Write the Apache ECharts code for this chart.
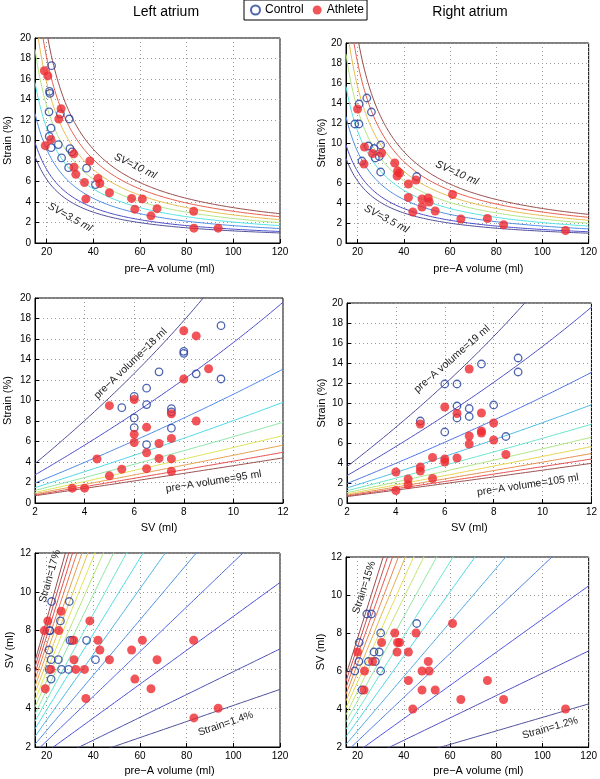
<!DOCTYPE html>
<html>
<head>
<meta charset="utf-8">
<title>Atrial strain vs volume</title>
<script src="https://cdn.jsdelivr.net/npm/echarts@6/dist/echarts.min.js"></script>
<style>
	html, body { margin: 0; padding: 0; background: #fff; }
	#chart { width: 600px; height: 779px; }
</style>
</head>
<body>
<div id="chart"></div>
<script>

/* ---------- data ---------- */

// left atrium, controls
var laCtrlPreA   = [22.1, 21.2, 21.4, 21.0, 25.9, 29.7, 21.9, 21.1, 21.9, 25.0, 30.0, 30.9, 26.4, 29.4, 37.1, 40.9];
var laCtrlSV     = [9.5, 8, 8, 7, 8.5, 9.5, 6.5, 6, 5.5, 6.5, 7.5, 7.5, 6, 6, 7.5, 6.5];
var laCtrlStrain = [17.3, 14.8, 14.6, 12.8, 12.6, 12.1, 11.2, 10.4, 9.3, 9.6, 9.2, 8.9, 8.3, 7.35, 7.3, 5.7];

// left atrium, athletes
var laAthPreA   = [19.0, 20.5, 26.2, 25.2, 19.4, 21.8, 31.6, 31.7, 32.5, 38.5, 36.2, 36.8, 42.0, 42.8, 46.9, 56.4, 61.0, 57.8, 67.3, 64.7, 83.0, 83.1, 93.5];
var laAthSV     = [8, 8.5, 9, 8, 5, 6, 7.5, 6.5, 6, 8.5, 6, 4.5, 7.5, 7, 6.5, 7, 7.5, 5.5, 6.5, 5, 7.5, 3.5, 4];
var laAthStrain = [16.8, 16.3, 13.1, 12.1, 9.5, 10.1, 8.7, 7.4, 6.7, 8.0, 5.9, 4.3, 6.3, 5.8, 4.9, 4.35, 4.3, 3.3, 3.35, 2.65, 3.1, 1.45, 1.45];

// right atrium, controls
var raCtrlPreA   = [24.0, 20.7, 26.0, 18.8, 20.6, 24.7, 30.0, 27.1, 27.7, 29.4, 21.9, 30.0, 45.6];
var raCtrlSV     = [9, 7.5, 9, 6, 6.5, 6.5, 8, 7, 6.5, 7, 5, 6, 8.5];
var raCtrlStrain = [14.5, 13.9, 13.1, 11.9, 11.9, 9.7, 9.8, 9.45, 8.5, 8.65, 8.2, 7.1, 6.65];

// right atrium, athletes
var raAthPreA   = [20.0, 23.0, 22.8, 26.5, 30.4, 36.1, 37.3, 38.2, 37.1, 45.3, 42.0, 42.0, 47.9, 50.6, 51.0, 47.9, 53.6, 43.9, 61.1, 64.7, 76.2, 83.2, 110.0];
var raAthSV     = [7, 6, 5, 6.5, 7.5, 8, 7.5, 7.5, 7, 8, 7, 5.5, 6, 6.5, 6, 5, 5, 4, 8.5, 4.5, 5.5, 4.5, 4];
var raAthStrain = [13.4, 9.6, 7.9, 8.95, 9.0, 8.0, 7.2, 7.0, 6.7, 6.3, 5.9, 4.55, 4.4, 4.5, 4.1, 3.6, 3.2, 3.1, 4.85, 2.4, 2.45, 1.83, 1.25];

// iso-lines of the model (one line per level)
var laSvLevels     = [3.5, 4, 5, 6, 7, 8, 9, 10];
var raSvLevels     = [3.5, 4, 5, 6, 7, 8, 9, 10];
var laVolLevels    = [18, 25, 35, 45, 55, 65, 75, 85, 95];
var raVolLevels    = [19, 25, 35, 45, 55, 65, 75, 85, 95, 105];
var laStrainLevels = [1.4, 2, 3, 4, 5, 6, 7, 8, 9, 10, 11, 12, 13, 14, 15, 16, 17];
var raStrainLevels = [1.2, 2, 3, 4, 5, 6, 7, 8, 9, 10, 11, 12, 13, 14, 15];

// tick labels
var volTicks = [20, 40, 60, 80, 100, 120];

/* ---------- helpers ---------- */

var FONT = '"Liberation Sans", Arial, sans-serif';
var BLUE = '#223f9e';
var RED = '#ee2a30';

// strain (%) of a chamber emptying sv out of vol
function strainOf(vol, sv) { return 100 * (1 - Math.cbrt((vol - sv) / vol)); }
function svOf(vol, strain) { return vol * (1 - Math.pow(1 - strain / 100, 3)); }

function zip(a, b) {
	return a.map(function(v, i) { return [v, b[i]]; });
}

// matlab jet, washed out like the original
function jetColor(t) {
	function ch(x) { return Math.max(0, Math.min(1, 1.5 - Math.abs(4 * t - x))); }
	var rgb = [ch(3), ch(2), ch(1)].map(function(c) { return Math.round((c * 0.6 + 0.3) * 255); });
	return 'rgb(' + rgb.join(',') + ')';
}

function svCurves(levels) {		// strain vs pre-A volume
	return levels.map(function(sv) {
		var pts = [];
		for (var v = 15; v <= 120.001; v += 0.5) {
			if (v > sv) pts.push([v, strainOf(v, sv)]);
		}
		return { level: sv, data: pts };
	});
}
function volCurves(levels) {		// strain vs SV
	return levels.map(function(vol) {
		var pts = [];
		for (var s = 2; s <= 12.001; s += 0.1) {
			if (s < vol) pts.push([s, strainOf(vol, s)]);
		}
		return { level: vol, data: pts };
	});
}
function strainCurves(levels) {		// SV vs pre-A volume
	return levels.map(function(e) {
		var pts = [];
		for (var v = 15; v <= 120.001; v += 1) pts.push([v, svOf(v, e)]);
		return { level: e, data: pts };
	});
}

/* ---------- panels ---------- */

var volX    = { min: 15, max: 120, ticks: volTicks };
var svX     = { min: 2, max: 12, interval: 2 };
var strainY = { min: 0, max: 20, interval: 2 };
var svY     = { min: 2, max: 12, interval: 2 };
var PREA = 'pre\u2212A volume (ml)';

var panels = [
	{ grid: { left: 35, top: 38, width: 245, height: 205 }, x: volX, y: strainY,
	  xName: PREA, xGap: 20, xShift: 24, yName: 'Strain (%)', yGap: 22,
	  ctrl: zip(laCtrlPreA, laCtrlStrain), ath: zip(laAthPreA, laAthStrain), curves: svCurves(laSvLevels) },
	{ grid: { left: 346, top: 43, width: 246, height: 200 }, x: volX, y: strainY,
	  xName: PREA, xGap: 20, xShift: 22, yName: 'Strain (%)', yGap: 19,
	  ctrl: zip(raCtrlPreA, raCtrlStrain), ath: zip(raAthPreA, raAthStrain), curves: svCurves(raSvLevels) },
	{ grid: { left: 35, top: 298, width: 248, height: 205 }, x: svX, y: strainY,
	  xName: 'SV (ml)', xGap: 19, xShift: 0, yName: 'Strain (%)', yGap: 22,
	  ctrl: zip(laCtrlSV, laCtrlStrain), ath: zip(laAthSV, laAthStrain), curves: volCurves(laVolLevels) },
	{ grid: { left: 347, top: 303, width: 246, height: 200 }, x: svX, y: strainY,
	  xName: 'SV (ml)', xGap: 19, xShift: 0, yName: 'Strain (%)', yGap: 20,
	  ctrl: zip(raCtrlSV, raCtrlStrain), ath: zip(raAthSV, raAthStrain), curves: volCurves(raVolLevels) },
	{ grid: { left: 35, top: 553, width: 245, height: 194 }, x: volX, y: svY,
	  xName: PREA, xGap: 18, xShift: 24, yName: 'SV (ml)', yGap: 20,
	  ctrl: zip(laCtrlPreA, laCtrlSV), ath: zip(laAthPreA, laAthSV), curves: strainCurves(laStrainLevels) },
	{ grid: { left: 346, top: 557, width: 246, height: 190 }, x: volX, y: svY,
	  xName: PREA, xGap: 18, xShift: 22, yName: 'SV (ml)', yGap: 20,
	  ctrl: zip(raCtrlPreA, raCtrlSV), ath: zip(raAthPreA, raAthSV), curves: strainCurves(raStrainLevels) }
];

// rotated labels on the iso-lines, [x, y] in data units of the panel
var notes = [
	{ g: 0, at: [58, 7.5],    text: 'SV=10 ml',  deg: -26, italic: true },
	{ g: 0, at: [30, 2.5],    text: 'SV=3.5 ml', deg: -29, italic: true },
	{ g: 1, at: [63, 7.0],    text: 'SV=10 ml',  deg: -24, italic: true },
	{ g: 1, at: [32.5, 2.4],  text: 'SV=3.5 ml', deg: -28, italic: true },
	{ g: 2, at: [5.85, 13.6], text: 'pre\u2212A volume=18 ml',  deg: 44 },
	{ g: 2, at: [9.2, 2.1],   text: 'pre\u2212A volume=95 ml',  deg: 9 },
	{ g: 3, at: [6.3, 14.4],  text: 'pre\u2212A volume=19 ml',  deg: 41 },
	{ g: 3, at: [9.4, 1.8],   text: 'pre\u2212A volume=105 ml', deg: 8.5 },
	{ g: 4, at: [21.4, 10.8], text: 'Strain=17%',  deg: 74 },
	{ g: 4, at: [96.7, 3.2],  text: 'Strain=1.4%', deg: 19 },
	{ g: 5, at: [22.9, 10.4], text: 'Strain=15%',  deg: 72 },
	{ g: 5, at: [103.3, 3.0], text: 'Strain=1.2%', deg: 16 }
];

function buildAxis(i, spec, name, gap, shift) {
	var ax = {
		type: 'value', gridIndex: i, min: spec.min, max: spec.max,
		name: name, nameLocation: 'middle', nameGap: gap,
		nameTextStyle: { fontFamily: FONT, fontSize: 11, color: '#000', padding: [0, 0, 0, shift || 0] },
		axisLine: { show: true, onZero: false, lineStyle: { color: '#000', width: 1 } },
		axisTick: { show: true, inside: true, length: 4, lineStyle: { color: '#000' } },
		axisLabel: { fontFamily: FONT, fontSize: 10, color: '#000', margin: 4 },
		splitLine: { show: true, lineStyle: { color: '#9a9a9a', type: [1, 3] } }
	};
	if (spec.ticks) {
		ax.axisTick.customValues = spec.ticks;
		ax.axisLabel.customValues = spec.ticks;
	} else {
		ax.interval = spec.interval;
	}
	return ax;
}

var grids = [], xAxes = [], yAxes = [], series = [];

panels.forEach(function(p, i) {
	grids.push({
		left: p.grid.left, top: p.grid.top, width: p.grid.width, height: p.grid.height,
		show: true, borderColor: '#000', borderWidth: 1, backgroundColor: 'transparent'
	});
	xAxes.push(buildAxis(i, p.x, p.xName, p.xGap, p.xShift));
	yAxes.push(buildAxis(i, p.y, p.yName, p.yGap, 0));

	var lo = p.curves[0].level, hi = p.curves[p.curves.length - 1].level;
	p.curves.forEach(function(c) {
		series.push({
			type: 'line', name: 'iso ' + c.level, xAxisIndex: i, yAxisIndex: i,
			data: c.data, showSymbol: false, symbol: 'none', clip: true, silent: true, z: 2,
			lineStyle: { color: jetColor((c.level - lo) / (hi - lo)), width: 1 }
		});
	});

	series.push({
		type: 'scatter', name: 'Control', xAxisIndex: i, yAxisIndex: i, data: p.ctrl,
		symbol: 'circle', symbolSize: 7.5, z: 3,
		itemStyle: { color: 'rgba(255,255,255,0)', borderColor: BLUE, borderWidth: 1.3 }
	});
	series.push({
		type: 'scatter', name: 'Athlete', xAxisIndex: i, yAxisIndex: i, data: p.ath,
		symbol: 'circle', symbolSize: 9, z: 4,
		itemStyle: { color: RED }
	});
});

var chart = echarts.init(document.getElementById('chart'));

chart.setOption({
	animation: false,
	grid: grids,
	xAxis: xAxes,
	yAxis: yAxes,
	series: series,
	legend: {
		left: 244, top: 0,
		data: ['Control', 'Athlete'],
		icon: 'circle', itemWidth: 9, itemHeight: 9, itemGap: 9,
		padding: [4, 3, 4, 6],
		borderColor: '#000', borderWidth: 1,
		selectedMode: false,
		textStyle: { fontFamily: FONT, fontSize: 12, color: '#000' }
	}
});

// titles and the iso-line labels
var graphics = [
	{ type: 'text', x: 166, y: 12, style: { text: 'Left atrium', fontFamily: FONT, fontSize: 14, fill: '#000', align: 'center', verticalAlign: 'middle' } },
	{ type: 'text', x: 470, y: 12, style: { text: 'Right atrium', fontFamily: FONT, fontSize: 14, fill: '#000', align: 'center', verticalAlign: 'middle' } }
];
notes.forEach(function(n) {
	var px = chart.convertToPixel({ xAxisIndex: n.g, yAxisIndex: n.g }, n.at);
	graphics.push({
		type: 'text', x: px[0], y: px[1], rotation: n.deg * Math.PI / 180, z: 10,
		style: {
			text: n.text, fontFamily: FONT, fontSize: 10.5, fill: '#222',
			fontStyle: n.italic ? 'italic' : 'normal',
			align: 'center', verticalAlign: 'middle'
		}
	});
});
chart.setOption({ graphic: graphics });

</script>
</body>
</html>
